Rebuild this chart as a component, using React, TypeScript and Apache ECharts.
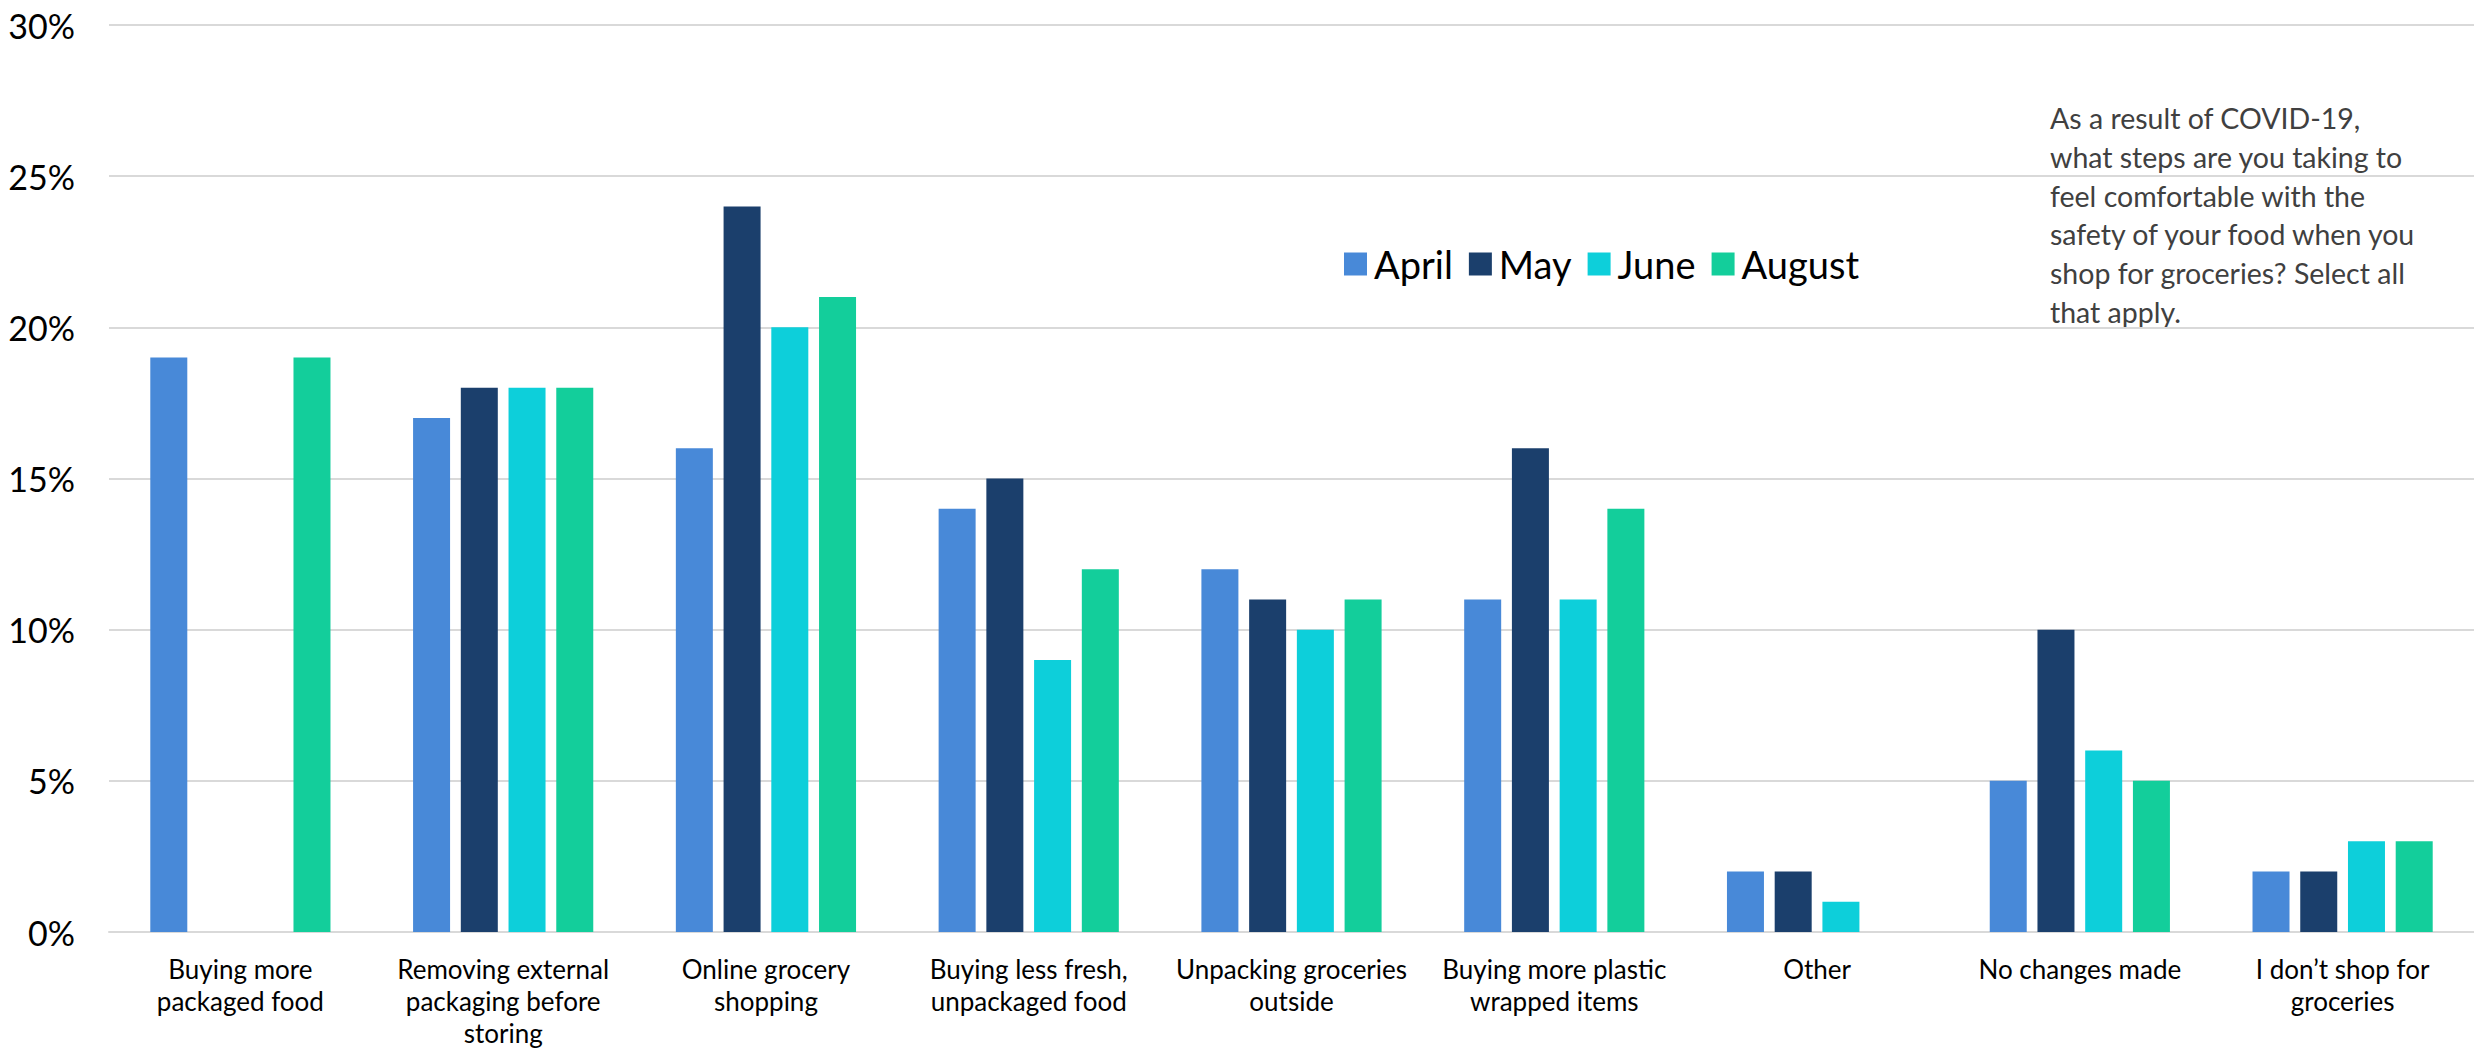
import React, { useEffect, useRef } from "react";
import * as echarts from "echarts";

const categories = [
  "Buying more\npackaged food",
  "Removing external\npackaging before\nstoring",
  "Online grocery\nshopping",
  "Buying less fresh,\nunpackaged food",
  "Unpacking groceries\noutside",
  "Buying more plastic\nwrapped items",
  "Other",
  "No changes made",
  "I don\u2019t shop for\ngroceries",
];

const aprilValues = [19, 17, 16, 14, 12, 11, 2, 5, 2];
const mayValues = [null, 18, 24, 15, 11, 16, 2, 10, 2];
const juneValues = [null, 18, 20, 9, 10, 11, 1, 6, 3];
const augustValues = [19, 18, 21, 12, 11, 14, null, 5, 3];

const seriesNames = ["April", "May", "June", "August"];
const seriesColors = ["#4889D8", "#1B3F6C", "#0DCFDA", "#13CE9B"];

const yTicks = { min: 0, max: 30, interval: 5 };

const noteLines = [
  "As a result of COVID-19,",
  "what steps are you taking to",
  "feel comfortable with the",
  "safety of your food when you",
  "shop for groceries? Select all",
  "that apply.",
];

const FONT = "Lato, 'Open Sans', sans-serif";

export default function App() {
  const ref = useRef<HTMLDivElement>(null);

  useEffect(() => {
    document.body.style.margin = "0";
    if (!ref.current) return;
    const chart = echarts.init(ref.current, null, { renderer: "svg" });
    const data = [aprilValues, mayValues, juneValues, augustValues];
    chart.setOption({
      animation: false,
      backgroundColor: "#ffffff",
      textStyle: { fontFamily: FONT },
      grid: { left: 109, right: 0, top: 25, bottom: 118, containLabel: false },
      legend: {
        data: seriesNames,
        left: 1339,
        top: 240,
        itemWidth: 23,
        itemHeight: 23,
        itemGap: 16,
        icon: "rect",
        textStyle: { fontSize: 38, color: "#000000", fontFamily: FONT, padding: [0, 0, 0, 2] },
      },
      xAxis: {
        type: "category",
        data: categories,
        axisTick: { show: false },
        axisLine: { show: true, lineStyle: { color: "#d9d9d9", width: 2 } },
        axisLabel: {
          interval: 0,
          color: "#000000",
          fontSize: 26,
          lineHeight: 32,
          margin: 21,
          fontFamily: FONT,
          verticalAlign: "top",
        },
      },
      yAxis: {
        type: "value",
        min: yTicks.min,
        max: yTicks.max,
        interval: yTicks.interval,
        axisLine: { show: false },
        axisTick: { show: false },
        splitLine: { lineStyle: { color: "#d9d9d9", width: 2 } },
        axisLabel: {
          formatter: "{value}%",
          color: "#000000",
          fontSize: 34,
          margin: 34,
          fontFamily: FONT,
        },
      },
      series: seriesNames.map((name, i) => ({
        name,
        type: "bar",
        data: data[i],
        barWidth: 37,
        barGap: "29%",
        itemStyle: { color: seriesColors[i] },
      })),
      graphic: [
        {
          type: "text",
          left: 2050,
          top: 99,
          style: {
            text: noteLines.join("\n"),
            fontSize: 28.5,
            lineHeight: 38.7,
            fill: "#404040",
            fontFamily: FONT,
          },
        },
      ],
    });
    return () => chart.dispose();
  }, []);

  return <div ref={ref} style={{ width: 2474, height: 1050 }} />;
}
